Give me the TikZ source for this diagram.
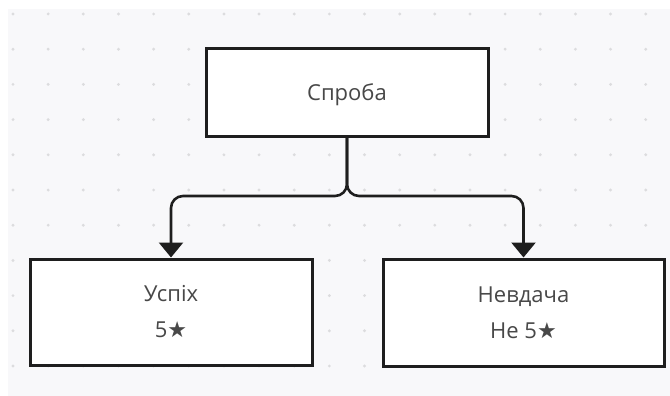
\documentclass[tikz,border=0pt]{standalone}
\usepackage{fontspec}
\setmainfont{Open Sans}
\newfontfamily\symfont{DejaVu Sans}
\usetikzlibrary{arrows.meta}
\definecolor{canvas}{HTML}{F8F8FA}
\definecolor{griddot}{HTML}{DCDCDE}
\definecolor{ink}{HTML}{1E1E1E}
\definecolor{label}{HTML}{484848}
\newcommand{\starsym}{{\symfont ★}}
\begin{document}
\begin{tikzpicture}[x=1pt,y=-1pt,
  box/.style={draw=ink, line width=3pt, fill=white, minimum width=#1, inner sep=0pt,
    font=\fontsize{22}{36}\selectfont, text=label, align=center},
  box/.default=282pt,
  link/.style={draw=ink, line width=2.6pt, rounded corners=12pt,
    -{Triangle[length=15pt,width=24pt]}}
]
\useasboundingbox (0,0) rectangle (670,396);
% canvas with dot grid
\fill[canvas] (8,9) rectangle (670,396);
\foreach \i in {0,...,18}{
  \foreach \j in {0,...,10}{
    \fill[griddot] ({13+35.15*\i},{14+35.2*\j}) circle (1.6pt);
  }
}
% nodes
\node[box=282pt, minimum height=87pt, text height=17pt, text depth=1pt] (try) at (347,92.5) {Спроба};
\node[box=282pt, minimum height=106pt] (ok) at (171,312) {Успіх\\5\starsym};
\node[box=281pt, minimum height=107pt] (fail) at (523.5,312.5) {Невдача\\Не 5\starsym};
% branching connectors
\coordinate (fork) at (347,196);
\draw[link] (try.south) -- (fork) -| (ok.north);
\draw[link] (try.south) -- (fork) -| (fail.north);
\end{tikzpicture}
\end{document}
